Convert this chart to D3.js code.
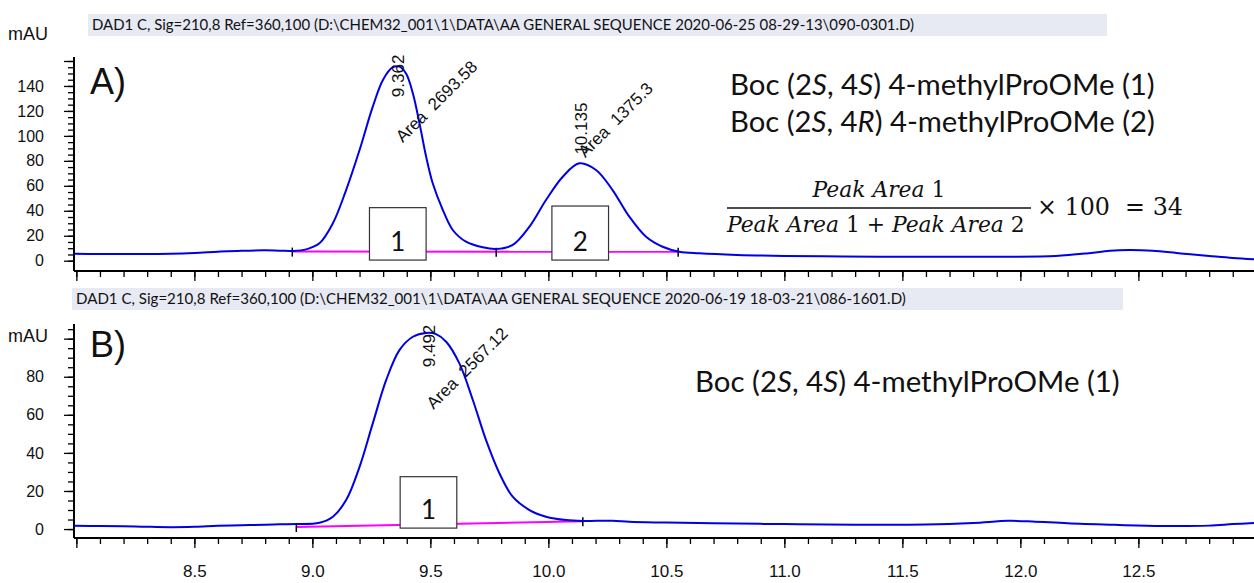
<!DOCTYPE html>
<html><head><meta charset="utf-8">
<script src="https://cdn.jsdelivr.net/npm/d3@7"></script>
<style>body{margin:0;background:#fff;} svg{display:block;}</style>
</head><body><svg id="c" width="1254" height="583"></svg>
<script>
// ---------- data ----------
const headerA = "DAD1 C, Sig=210,8 Ref=360,100 (D:\\CHEM32_001\\1\\DATA\\AA GENERAL SEQUENCE 2020-06-25 08-29-13\\090-0301.D)";
const headerB = "DAD1 C, Sig=210,8 Ref=360,100 (D:\\CHEM32_001\\1\\DATA\\AA GENERAL SEQUENCE 2020-06-19 18-03-21\\086-1601.D)";
const timeA = [7.99,8.1,8.2,8.3,8.4,8.5,8.6,8.7,8.8,8.861,8.917,8.974,9.030,9.087,9.143,9.200,9.256,9.299,9.341,9.369,9.397,9.426,9.454,9.482,9.510,9.553,9.595,9.651,9.722,9.779,9.849,9.920,9.990,10.061,10.131,10.202,10.272,10.343,10.414,10.484,10.555,10.640,10.8,11.0,11.25,11.5,11.75,11.95,12.15,12.28,12.38,12.46,12.56,12.68,12.8,12.9,12.99];
const signalA = [5.5,5.4,5.3,5.4,5.6,6.2,7.2,8.0,8.3,8.0,7.8,9.1,13.9,30.0,56.6,88.7,123.4,144.8,155.0,155.5,150.0,134.0,110.0,83.4,62.0,40.6,24.6,15.2,10.7,9.4,12.6,27.3,48.6,67.3,78.0,72.7,56.6,35.3,19.2,11.2,7.2,5.9,4.6,3.8,3.4,3.2,3.2,3.2,3.8,5.8,8.0,8.6,8.0,5.8,3.8,2.2,1.2];
const timeB = [7.99,8.1,8.25,8.4,8.5,8.6,8.7,8.8,8.861,8.932,9.030,9.087,9.143,9.200,9.256,9.313,9.369,9.426,9.482,9.524,9.567,9.623,9.680,9.736,9.793,9.849,9.920,9.990,10.075,10.146,10.272,10.343,10.5,10.7,11.0,11.3,11.6,11.8,11.95,12.05,12.2,12.4,12.6,12.8,12.9,12.99];
const signalB = [1.7,1.6,1.4,1.0,1.2,1.7,2.0,2.3,2.5,2.6,3.3,6.5,15.2,32.7,55.5,78.3,94.0,101.0,103.0,102.4,98.4,87.0,67.8,46.7,29.2,17.0,10.0,6.5,4.7,4.2,4.4,3.8,3.4,3.0,2.6,2.3,2.4,3.2,4.3,4.0,3.0,2.2,1.6,1.8,2.6,3.2];
const xTickLabels = ["8.5","9.0","9.5","10.0","10.5","11.0","11.5","12.0","12.5"];
const yTickLabelsA = ["0","20","40","60","80","100","120","140"];
const yTickLabelsB = ["0","20","40","60","80"];
// peaks: retention time, area, peak number, where labels start (mAU), box top (mAU)
const peakRT_A = [9.362, 10.135];
const peakArea_A = ["2693.58", "1375.3"];
const peakNum_A = ["1", "2"];
const rtLabelAt_A = [131, 85];
const areaLabelAt_A = [94, 82];
const boxTop_A = [42.5, 43.8];
const peakRT_B = [9.492];
const peakArea_B = ["2567.12"];
const peakNum_B = ["1"];
const rtLabelAt_B = [85];
const areaLabelAt_B = [62.5];
const boxTop_B = [27.5];
// integration baselines
const baseTimeA = [8.915, 10.55];
const baseValA = [7.3, 7.2];
const baseMarksA = [8.915, 9.779, 10.55];
const baseTimeB = [8.932, 10.146];
const baseValB = [1.1, 4.1];
const baseMarksB = [8.932, 10.146];

// ---------- setup ----------
const svg = d3.select("#c");
const W = 1254;
const x = d3.scaleLinear().domain([7.99, 12.99]).range([74, 1254]);
const yA = d3.scaleLinear().domain([-8.25, 163.2]).range([271, 57]);
const yB = d3.scaleLinear().domain([-4.7, 107.7]).range([538, 324]);
const SANS = "'Liberation Sans', Arial, sans-serif";
const CAL = "Lato, 'Open Sans', sans-serif";
const SERIF = "'DejaVu Serif', 'Liberation Serif', serif";

function fit(sel, target) {
  const node = sel.node();
  const len = node.getComputedTextLength();
  const fs = parseFloat(sel.attr("font-size"));
  sel.attr("font-size", fs * target / len);
  return fs * target / len;
}

// headers
function header(x0, x1, y0, y1, txt, tx, ty, tw) {
  svg.append("rect").attr("x", x0).attr("y", y0).attr("width", x1 - x0).attr("height", y1 - y0).attr("fill", "#e7e9f3");
  const t = svg.append("text").attr("x", tx).attr("y", ty).attr("font-family", CAL).attr("font-size", 13).attr("fill", "#111").text(txt);
  fit(t, tw);
}
header(88, 1107, 14, 36, headerA, 92, 30, 823);
header(72, 1123, 288, 310, headerB, 76, 304, 830);

svg.append("text").attr("x", 8).attr("y", 40).attr("font-family", SANS).attr("font-size", 18).attr("fill", "#111").text("mAU");

// ---------- panels ----------
function panel(y, yMaxTick, yLabels, time, signal, bT, bV, bMarks, rts, areas, nums, rtAt, areaAt, boxTops, panelLabel, plY, showXLabels, mauY) {
  const g = svg.append("g");
  const [ybot, ytop] = y.range();
  // y axis
  const yMinor = d3.range(0, yMaxTick + 0.1, 5);
  const yMajor = d3.range(0, yMaxTick + 0.1, 20);
  g.append("g").attr("transform", `translate(${x.range()[0]},0)`)
    .call(d3.axisLeft(y).tickValues(yMinor).tickSize(6).tickFormat("").tickSizeOuter(0))
    .call(s => s.select(".domain").remove())
    .selectAll("line").attr("stroke", "#000").attr("stroke-width", 1.3);
  const ya = g.append("g").attr("transform", `translate(${x.range()[0]},0)`)
    .call(d3.axisLeft(y).tickValues(yMajor).tickSize(10).tickPadding(20)
      .tickFormat(d => { const i = yMajor.indexOf(d); return i < yLabels.length ? yLabels[i] : ""; }).tickSizeOuter(0));
  ya.select(".domain").remove();
  ya.selectAll("line").attr("stroke", "#000").attr("stroke-width", 1.3);
  ya.selectAll("text").attr("font-family", SANS).attr("font-size", 16).attr("fill", "#111");
  g.append("line").attr("x1", x.range()[0]).attr("x2", x.range()[0]).attr("y1", ytop).attr("y2", ybot).attr("stroke", "#000").attr("stroke-width", 2);
  // x axis
  const xMinor = d3.range(80, 130).map(d => d / 10);
  const xMajor = d3.range(16, 26).map(d => d / 2);
  g.append("g").attr("transform", `translate(0,${ybot})`)
    .call(d3.axisBottom(x).tickValues(xMinor).tickSize(6).tickFormat("").tickSizeOuter(0))
    .call(s => s.select(".domain").remove())
    .selectAll("line").attr("stroke", "#000").attr("stroke-width", 1.3);
  const xa = g.append("g").attr("transform", `translate(0,${ybot})`)
    .call(d3.axisBottom(x).tickValues(xMajor).tickSize(10).tickPadding(17)
      .tickFormat(d => { if (!showXLabels) return ""; const i = xMajor.indexOf(d) - 1; return i >= 0 && i < xTickLabels.length ? xTickLabels[i] : ""; }).tickSizeOuter(0));
  xa.select(".domain").remove();
  xa.selectAll("line").attr("stroke", "#000").attr("stroke-width", 1.3);
  xa.selectAll("text").attr("font-family", SANS).attr("font-size", 17).attr("fill", "#111");
  g.append("line").attr("x1", x.range()[0]).attr("x2", W).attr("y1", ybot).attr("y2", ybot).attr("stroke", "#000").attr("stroke-width", 2);
  if (mauY !== null) {
    g.append("text").attr("x", 8).attr("y", mauY).attr("font-family", SANS).attr("font-size", 18).attr("fill", "#111").text("mAU");
  }
  // panel label
  g.append("text").attr("x", 90).attr("y", plY).attr("font-family", SANS).attr("font-size", 36).attr("fill", "#111").text(panelLabel);

  // integration baseline
  g.append("line").attr("x1", x(bT[0])).attr("x2", x(bT[1])).attr("y1", y(bV[0])).attr("y2", y(bV[1]))
    .attr("stroke", "#ff00ff").attr("stroke-width", 2);
  const bInterp = t => bV[0] + (bV[1] - bV[0]) * (t - bT[0]) / (bT[1] - bT[0]);
  g.selectAll(".bm").data(bMarks).join("line")
    .attr("x1", d => x(d)).attr("x2", d => x(d))
    .attr("y1", d => y(bInterp(d)) - 4).attr("y2", d => y(bInterp(d)) + 5)
    .attr("stroke", "#000").attr("stroke-width", 1.5);

  // trace
  const pts = time.map((t, i) => [t, signal[i]]);
  g.append("path").datum(pts)
    .attr("d", d3.line().x(d => x(d[0])).y(d => y(d[1])).curve(d3.curveCatmullRom.alpha(0.5)))
    .attr("fill", "none").attr("stroke", "#0000e6").attr("stroke-width", 2);

  // boxes
  rts.forEach((rt, i) => {
    const x0 = x(rt - 0.12), x1 = x(rt + 0.12);
    const y0 = y(boxTops[i]);
    g.append("rect").attr("x", x0).attr("y", y0).attr("width", x1 - x0).attr("height", y(0.5) - y0)
      .attr("fill", "#fff").attr("stroke", "#333").attr("stroke-width", 1.2);
    g.append("text").attr("x", (x0 + x1) / 2).attr("y", y(0.5) - 9).attr("text-anchor", "middle")
      .attr("font-family", CAL).attr("font-size", 26).attr("fill", "#111").text(nums[i]);
  });
  // peak labels
  rts.forEach((rt, i) => {
    const px = x(rt);
    g.append("text").attr("transform", `translate(${px + 1},${y(rtAt[i])}) rotate(-90)`)
      .attr("font-family", SANS).attr("font-size", 17).attr("dominant-baseline", "central").attr("fill", "#111")
      .text(rt.toFixed(3));
    g.append("text").attr("transform", `translate(${px + 5},${y(areaAt[i])}) rotate(-45)`)
      .attr("font-family", SANS).attr("font-size", 17).attr("fill", "#111").style("white-space", "pre")
      .text("Area  " + areas[i]);
  });
}

panel(yA, 160, yTickLabelsA, timeA, signalA, baseTimeA, baseValA, baseMarksA,
  peakRT_A, peakArea_A, peakNum_A, rtLabelAt_A, areaLabelAt_A, boxTop_A, "A)", 94, false, null);
panel(yB, 105, yTickLabelsB, timeB, signalB, baseTimeB, baseValB, baseMarksB,
  peakRT_B, peakArea_B, peakNum_B, rtLabelAt_B, areaLabelAt_B, boxTop_B, "B)", 357, true, 342);

// ---------- compound annotations ----------
function compound(x0, yb, config, width) {
  const t = svg.append("text").attr("x", x0).attr("y", yb).attr("font-family", CAL).attr("font-size", 26).attr("fill", "#111");
  config.forEach(([s, it]) => t.append("tspan").attr("font-style", it ? "italic" : "normal").text(s));
  fit(t, width);
}
compound(730, 95, [["Boc (2", 0], ["S", 1], [", 4", 0], ["S", 1], [") 4-methylProOMe (1)", 0]], 425);
compound(730, 132, [["Boc (2", 0], ["S", 1], [", 4", 0], ["R", 1], [") 4-methylProOMe (2)", 0]], 425);
compound(695, 392, [["Boc (2", 0], ["S", 1], [", 4", 0], ["S", 1], [") 4-methylProOMe (1)", 0]], 425);

// formula
function serifText(xx, yy, parts, anchor, fs) {
  const t = svg.append("text").attr("x", xx).attr("y", yy).attr("font-family", SERIF).attr("font-size", fs)
    .attr("fill", "#111").attr("text-anchor", anchor).style("white-space", "pre");
  parts.forEach(([s, it]) => t.append("tspan").attr("font-style", it ? "italic" : "normal").text(s));
  return t;
}
const barX0 = 727, barX1 = 1031;
const den = serifText(barX0, 232, [["Peak Area", 1], [" 1 + ", 0], ["Peak Area", 1], [" 2", 0]], "start", 20);
const denSize = fit(den, 298);
serifText((barX0 + barX1) / 2, 197, [["Peak Area", 1], [" 1", 0]], "middle", denSize);
svg.append("line").attr("x1", barX0).attr("x2", barX1).attr("y1", 208).attr("y2", 208).attr("stroke", "#111").attr("stroke-width", 1.3);
const mul = serifText(1037, 215, [["× 100  = 34", 0]], "start", 20);
fit(mul, 146);
</script></body></html>
